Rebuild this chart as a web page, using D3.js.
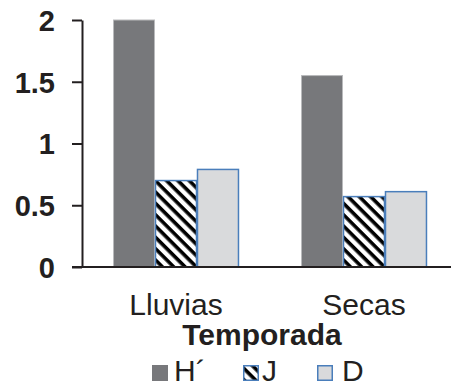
<!doctype html>
<html>
<head>
<meta charset="utf-8"/>
<script src="https://d3js.org/d3.v7.min.js"></script>
<style>
body { margin: 0; background: white; }
text { font-family: "Liberation Sans", Arial, sans-serif; fill: #231f20; }
</style>
</head>
<body>
<svg id="chart"></svg>
<script>
const width = 451
const height = 387

// data
const categories = ['Lluvias', 'Secas']
const series = ['H´', 'J', 'D']
const valuesH = [2.0, 1.55]
const valuesJ = [0.70, 0.57]
const valuesD = [0.79, 0.61]
const yTicks = [0, 0.5, 1, 1.5, 2]
const xTitle = 'Temporada'

const values = [valuesH, valuesJ, valuesD]
const rows = categories.map((c, i) => ({cat: c, vals: series.map((s, j) => ({key: s, v: values[j][i]}))}))

const svg = d3.select('#chart')
    .attr('width', width)
    .attr('height', height)

const defs = svg.append('defs')
const pat = defs.append('pattern')
    .attr('id', 'hatch')
    .attr('patternUnits', 'userSpaceOnUse')
    .attr('width', 8)
    .attr('height', 8)
    .attr('patternTransform', 'rotate(45)')
pat.append('rect').attr('width', 8).attr('height', 8).attr('fill', 'white')
pat.append('rect').attr('width', 8).attr('height', 3.6).attr('fill', 'black')

const fills = {'H´': '#77787b', 'J': 'url(#hatch)', 'D': '#d9dadc'}
const strokes = {'H´': '#b9babc', 'J': '#4a7ebb', 'D': '#4a7ebb'}

const x0 = d3.scaleBand().domain(categories).range([82, 458]).paddingInner(0.33).paddingOuter(0.165)
const x1 = d3.scaleBand().domain(series).range([0, x0.bandwidth()])
const y = d3.scaleLinear().domain([0, 2]).range([267, 20])

// bars
const g = svg.append('g')
g.selectAll('g.cat')
    .data(rows)
    .join('g')
    .attr('transform', d => `translate(${x0(d.cat)},0)`)
    .selectAll('rect')
    .data(d => d.vals)
    .join('rect')
    .attr('x', d => x1(d.key) + 0.5)
    .attr('y', d => y(d.v))
    .attr('width', x1.bandwidth() - 1)
    .attr('height', d => y(0) - y(d.v))
    .attr('fill', d => fills[d.key])
    .attr('stroke', d => strokes[d.key])
    .attr('stroke-width', d => d.key === 'H´' ? 1 : 1.5)

// y axis
const yAxis = svg.append('g')
    .attr('transform', 'translate(82,0)')
    .call(d3.axisLeft(y).tickValues(yTicks).tickSize(10).tickSizeOuter(0).tickPadding(17).tickFormat(d3.format('')))
yAxis.select('.domain').attr('stroke', '#231f20').attr('stroke-width', 2)
yAxis.selectAll('.tick line').attr('stroke', '#231f20').attr('stroke-width', 2)
yAxis.selectAll('.tick text')
    .attr('font-size', 29)
    .attr('font-weight', 'bold')
    .attr('font-family', '"Liberation Sans", Arial, sans-serif')
    .attr('fill', '#231f20')
    .attr('dy', '0.36em')

// baseline
svg.append('line')
    .attr('x1', 72).attr('x2', width)
    .attr('y1', y(0)).attr('y2', y(0))
    .attr('stroke', '#231f20').attr('stroke-width', 2)

// category labels
svg.selectAll('text.cat')
    .data(categories)
    .join('text')
    .attr('class', 'cat')
    .attr('x', d => x0(d) + x0.bandwidth() / 2)
    .attr('y', 315)
    .attr('text-anchor', 'middle')
    .attr('font-size', 30)
    .text(d => d)

svg.append('text')
    .attr('x', 262)
    .attr('y', 345)
    .attr('text-anchor', 'middle')
    .attr('font-size', 30)
    .attr('font-weight', 'bold')
    .text(xTitle)

// legend
const legX = [152, 243, 317]
const leg = svg.selectAll('g.leg')
    .data(series)
    .join('g')
    .attr('transform', (d, i) => `translate(${legX[i]},365)`)
leg.append('rect')
    .attr('x', d => d === 'H´' ? 0 : 0.75)
    .attr('y', d => d === 'H´' ? 0 : 0.75)
    .attr('width', d => d === 'H´' ? 16 : 14.5)
    .attr('height', d => d === 'H´' ? 16 : 14.5)
    .attr('fill', d => fills[d])
    .attr('stroke', d => d === 'H´' ? 'none' : strokes[d])
    .attr('stroke-width', 1.5)
leg.append('text')
    .attr('x', (d, i) => i === 0 ? 22 : i === 1 ? 19 : 25)
    .attr('y', 16)
    .attr('font-size', 30)
    .text(d => d)
</script>
</body>
</html>
